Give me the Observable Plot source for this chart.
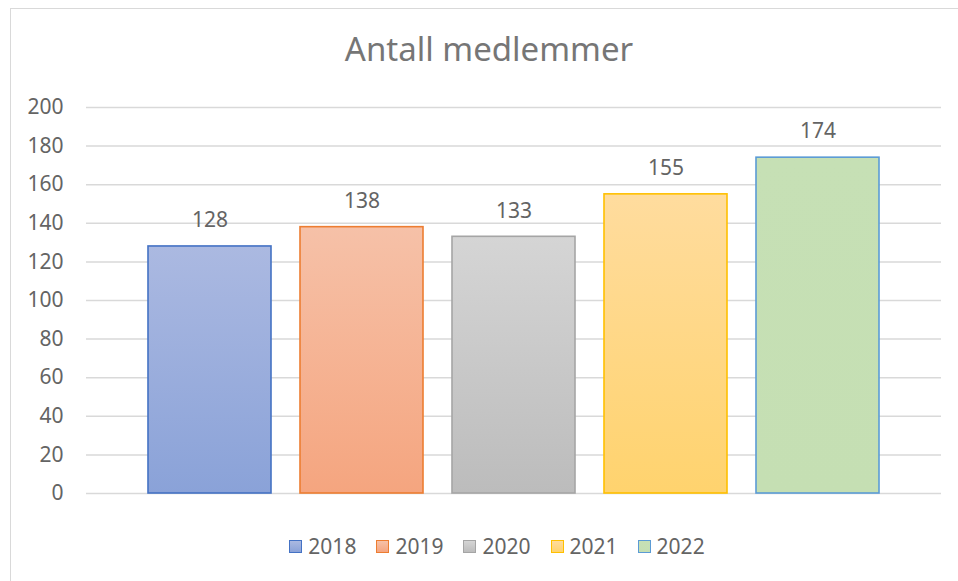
<!DOCTYPE html>
<html>
<head>
<meta charset="utf-8">
<script src="https://cdn.jsdelivr.net/npm/d3@7"></script>
<script src="https://cdn.jsdelivr.net/npm/@observablehq/plot@0.6"></script>
<style>
  html, body { margin: 0; padding: 0; background: #fff; overflow: hidden; }
  body { width: 958px; height: 581px; position: relative; font-family: "Noto Sans", "Open Sans", sans-serif; }
  #frame { position: absolute; left: 10px; top: 8px; width: 1000px; height: 700px; border: 1.5px solid #d9d9d9; box-sizing: border-box; }
  #title { position: absolute; left: 0; width: 978px; top: 27px; text-align: center; font-size: 33px; color: #767676; line-height: 44px; }
  #chart { position: absolute; left: 0; top: 0; }
  #legend { position: absolute; left: 8px; width: 978px; top: 532px; display: flex; justify-content: center; gap: 20px; font-size: 21px; color: #646464; line-height: 28px; }
  .item { display: flex; align-items: center; gap: 6px; }
  .sw { width: 11px; height: 11px; border: 1.5px solid; }
</style>
</head>
<body>
<div id="frame"></div>
<div id="title">Antall medlemmer</div>
<div id="chart"></div>
<div id="legend"></div>
<script>
const years = ["2018", "2019", "2020", "2021", "2022"];
const members = [128, 138, 133, 155, 174];
const yTicks = [0, 20, 40, 60, 80, 100, 120, 140, 160, 180, 200];
const fillTop = ["#abb9e1", "#f6c1a8", "#d5d5d5", "#ffdc9e", "#c6e0b5"];
const fillBottom = ["#8aa2d8", "#f5a57f", "#bcbcbc", "#ffd36e", "#c5dfb3"];
const strokes = ["#4472c4", "#ed7d31", "#a5a5a5", "#ffc000", "#5b9bd5"];

const data = years.map((y, i) => ({year: y, value: members[i], fill: `url(#grad${y})`, stroke: strokes[i]}));

function defs() {
  const ns = "http://www.w3.org/2000/svg";
  const d = document.createElementNS(ns, "defs");
  years.forEach((y, i) => {
    const g = document.createElementNS(ns, "linearGradient");
    g.setAttribute("id", `grad${y}`);
    g.setAttribute("x1", "0"); g.setAttribute("y1", "0");
    g.setAttribute("x2", "0"); g.setAttribute("y2", "1");
    const s1 = document.createElementNS(ns, "stop");
    s1.setAttribute("offset", "0%"); s1.setAttribute("stop-color", fillTop[i]);
    const s2 = document.createElementNS(ns, "stop");
    s2.setAttribute("offset", "100%"); s2.setAttribute("stop-color", fillBottom[i]);
    g.appendChild(s1); g.appendChild(s2);
    d.appendChild(g);
  });
  return d;
}

const chart = Plot.plot({
  width: 958,
  height: 520,
  marginTop: 107,
  marginBottom: 27,
  marginLeft: 86,
  marginRight: 17,
  style: {fontFamily: "'Noto Sans', 'Open Sans', sans-serif", fontSize: "21px", color: "#646464", background: "transparent"},
  x: {domain: years, paddingInner: 0.19, paddingOuter: 0.4, axis: null},
  y: {domain: [0, 200], ticks: yTicks, tickSize: 0, tickPadding: 23, label: null, tickFormat: d => String(d)},
  color: {type: "identity"},
  marks: [
    defs,
    Plot.ruleY(yTicks, {stroke: "#d9d9d9", strokeWidth: 1.5}),
    Plot.barY(data, {x: "year", y: "value", fill: "fill", stroke: "stroke", strokeWidth: 1.6}),
    Plot.text(data, {x: "year", y: "value", text: d => String(d.value), dy: -26, fill: "#646464", fontSize: 21, textAnchor: "middle", lineAnchor: "middle"})
  ]
});
document.getElementById("chart").appendChild(chart);

const legend = document.getElementById("legend");
years.forEach((y, i) => {
  const it = document.createElement("div");
  it.className = "item";
  const sw = document.createElement("div");
  sw.className = "sw";
  sw.style.background = `linear-gradient(${fillTop[i]}, ${fillBottom[i]})`;
  sw.style.borderColor = strokes[i];
  const t = document.createElement("span");
  t.textContent = y;
  it.appendChild(sw); it.appendChild(t);
  legend.appendChild(it);
});
</script>
</body>
</html>
